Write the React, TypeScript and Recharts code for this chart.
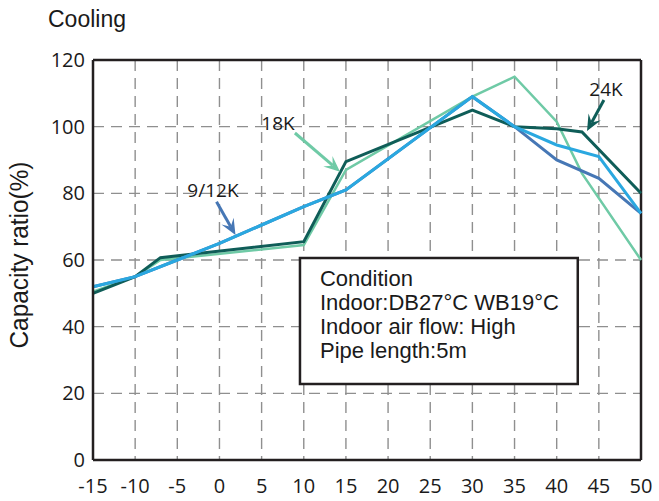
import {
  LineChart,
  Line,
  XAxis,
  YAxis,
  CartesianGrid,
  ReferenceLine,
  ReferenceArea,
  ReferenceDot,
} from "recharts";

// outdoor temperature (°C) and capacity ratio (%) for each model line
const temps24 = [-15, -10, -7, 10, 15, 30, 35, 40, 43, 50];
const ratio24 = [50, 55, 60.7, 65.5, 89.5, 105, 100, 99.4, 98.4, 80];

const temps18 = [-15, -10, -7, 10, 15, 30, 35, 40, 43, 50];
const ratio18 = [50.5, 55, 60, 64.5, 87, 109, 115, 101.5, 86, 60];

const tempsBlue = [-15, -10, -5, 0, 5, 10, 15, 30, 35, 40, 45, 50];
const ratio912 = [52, 55, 60, 65, 70.5, 76, 81, 109, 100, 90, 84.5, 74];
const ratioLight = [52, 55, 60, 65, 70.5, 76, 81, 109, 100, 94.5, 91, 74];

const xTicks = [-15, -10, -5, 0, 5, 10, 15, 20, 25, 30, 35, 40, 45, 50];
const yTicks = [0, 20, 40, 60, 80, 100, 120];

const conditionLines = [
  "Condition",
  "Indoor:DB27°C WB19°C",
  "Indoor air flow: High",
  "Pipe length:5m",
];

const toPoints = (t: number[], v: number[]) => t.map((x, i) => ({ t: x, v: v[i] }));

const DARK = "#0f5d58";
const GREEN = "#6fcaa6";
const BLUE = "#4677b5";
const LIGHT = "#2aa8e0";
const INK = "#231f20";

const arrowShape = (color: string) => (props: any) => {
  const { x1, y1, x2, y2 } = props;
  const ang = Math.atan2(y2 - y1, x2 - x1);
  const len = 16;
  const half = 7;
  const bx = x2 - len * Math.cos(ang);
  const by = y2 - len * Math.sin(ang);
  const nx = x2 - len * 0.6 * Math.cos(ang);
  const ny = y2 - len * 0.6 * Math.sin(ang);
  const px = -Math.sin(ang) * half;
  const py = Math.cos(ang) * half;
  return (
    <g>
      <line x1={x1} y1={y1} x2={nx} y2={ny} stroke={color} strokeWidth={3} />
      <polygon
        points={`${x2},${y2} ${bx + px},${by + py} ${nx},${ny} ${bx - px},${by - py}`}
        fill={color}
      />
    </g>
  );
};

const labelShape = (text: string) => (props: any) => (
  <text
    x={props.cx}
    y={props.cy}
    textAnchor="middle"
    dominantBaseline="central"
    fontFamily="'Open Sans', sans-serif"
    fontSize={19}
    fill="#1a1a1a"
  >
    {text}
  </text>
);

const conditionBox = (props: any) => {
  const { x, y, width, height } = props;
  return (
    <g>
      <rect x={x} y={y} width={width} height={height} fill="#fff" stroke={INK} strokeWidth={2.5} />
      {conditionLines.map((s, i) => (
        <text
          key={i}
          x={x + 20}
          y={y + 28 + i * 24}
          fontFamily="'Liberation Sans', Arial, sans-serif"
          fontSize={22}
          fill="#1a1a1a"
        >
          {s}
        </text>
      ))}
    </g>
  );
};

const tickStyle = { fontFamily: "'Open Sans', sans-serif", fontSize: 20, fill: "#1a1a1a" };

export default function App() {
  return (
    <div style={{ position: "absolute", left: 0, top: 0, width: 659, height: 501, background: "#fff" }}>
      <LineChart width={659} height={501} margin={{ top: 60, right: 18, left: 53, bottom: 11 }}>
        <CartesianGrid stroke="#8f8f8f" strokeWidth={1.4} strokeDasharray="11 7" />
        <XAxis
          type="number"
          dataKey="t"
          domain={[-15, 50]}
          ticks={xTicks}
          height={30}
          tick={tickStyle}
          tickLine={false}
          tickMargin={13}
          axisLine={{ stroke: INK, strokeWidth: 2.5 }}
        />
        <YAxis
          type="number"
          domain={[0, 120]}
          ticks={yTicks}
          width={40}
          tick={tickStyle}
          tickLine={false}
          axisLine={{ stroke: INK, strokeWidth: 2.5 }}
        />
        <ReferenceLine y={120} stroke={INK} strokeWidth={2.5} />
        <ReferenceLine x={50} stroke={INK} strokeWidth={2.5} />
        <ReferenceArea x1={9.55} x2={42.5} y1={22.8} y2={60.6} shape={conditionBox} />

        <Line data={toPoints(temps18, ratio18)} dataKey="v" type="linear" stroke={GREEN} strokeWidth={2.5} dot={false} isAnimationActive={false} />
        <Line data={toPoints(temps24, ratio24)} dataKey="v" type="linear" stroke={DARK} strokeWidth={3} dot={false} isAnimationActive={false} />
        <Line data={toPoints(tempsBlue, ratio912)} dataKey="v" type="linear" stroke={BLUE} strokeWidth={3} dot={false} isAnimationActive={false} />
        <Line data={toPoints(tempsBlue, ratioLight)} dataKey="v" type="linear" stroke={LIGHT} strokeWidth={3} dot={false} isAnimationActive={false} />

        <ReferenceLine segment={[{ x: -0.35, y: 77.5 }, { x: 1.9, y: 67.5 }]} shape={arrowShape(BLUE)} />
        <ReferenceLine segment={[{ x: 8.95, y: 98.1 }, { x: 14.3, y: 86.5 }]} shape={arrowShape(GREEN)} />
        <ReferenceLine segment={[{ x: 45.6, y: 108 }, { x: 43.6, y: 98.7 }]} shape={arrowShape(DARK)} />
        <ReferenceDot x={-0.77} y={81} r={0} shape={labelShape("9/12K")} />
        <ReferenceDot x={6.94} y={101.1} r={0} shape={labelShape("18K")} />
        <ReferenceDot x={45.85} y={111.3} r={0} shape={labelShape("24K")} />
      </LineChart>
      <svg width={659} height={501} style={{ position: "absolute", left: 0, top: 0, pointerEvents: "none" }}>
        <text x={48} y={27} fontFamily="'Liberation Sans', Arial, sans-serif" fontSize={23} fill="#1a1a1a">
          Cooling
        </text>
        <text
          transform="translate(28,255) rotate(-90)"
          textAnchor="middle"
          fontFamily="'Liberation Sans', Arial, sans-serif"
          fontSize={25}
          textLength={187}
          lengthAdjust="spacingAndGlyphs"
          fill="#1a1a1a"
        >
          Capacity ratio(%)
        </text>
      </svg>
    </div>
  );
}
